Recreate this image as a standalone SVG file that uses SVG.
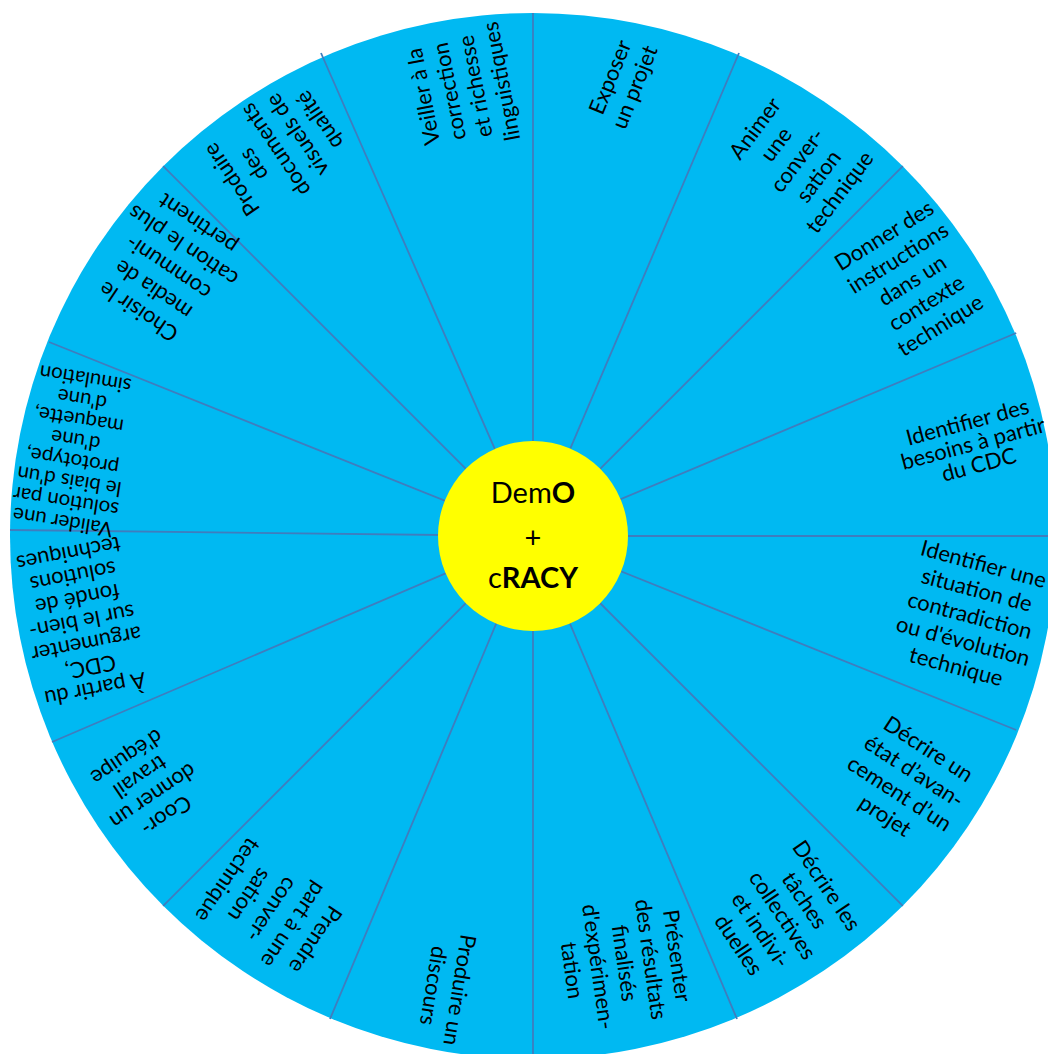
<svg xmlns="http://www.w3.org/2000/svg" width="1048" height="1054" viewBox="0 0 1048 1054">
<defs>
<style>
.wedge{fill:#00B9F2;stroke:none}
.div{stroke:#3F7DBE;stroke-width:1.8;fill:none}
.lbl{font-family:Lato,"Open Sans","DejaVu Sans",sans-serif;font-size:22px;fill:#000;text-anchor:middle}
.sm{font-size:20.5px}
.ctr{font-family:Lato,"Open Sans","DejaVu Sans",sans-serif;font-size:29px;fill:#000;text-anchor:middle}
</style>
</defs>
<rect width="1048" height="1054" fill="#fff"/>
<g id="wheel">
<circle cx="533" cy="536" r="523" class="wedge"/>
</g>
<g id="connectors">
<line class="div" x1="533" y1="536" x2="533" y2="13"/>
<line class="div" x1="533" y1="536" x2="739" y2="53"/>
<line class="div" x1="533" y1="536" x2="902.8" y2="166.2"/>
<line class="div" x1="533" y1="536" x2="1016.2" y2="333"/>
<line class="div" x1="533" y1="536" x2="1056" y2="536"/>
<line class="div" x1="533" y1="536" x2="1016.2" y2="730"/>
<line class="div" x1="533" y1="536" x2="902.8" y2="905.8"/>
<line class="div" x1="533" y1="536" x2="737" y2="1019"/>
<line class="div" x1="533" y1="536" x2="533" y2="1059"/>
<line class="div" x1="533" y1="536" x2="330" y2="1019"/>
<line class="div" x1="533" y1="536" x2="163.2" y2="905.8"/>
<line class="div" x1="533" y1="536" x2="52" y2="742"/>
<line class="div" x1="533" y1="536" x2="10" y2="530"/>
<line class="div" x1="533" y1="536" x2="49" y2="342"/>
<line class="div" x1="533" y1="536" x2="163.2" y2="166.2"/>
<line class="div" x1="533" y1="536" x2="321" y2="53"/>
</g>
<g id="seg0"><text class="lbl" transform="translate(622,82) rotate(-68)"><tspan x="0" y="-5.25">Exposer</tspan><tspan x="0" dy="26.5">un projet</tspan></text></g>
<g id="seg1"><text class="lbl" transform="translate(797,160) rotate(-53)"><tspan x="0" y="-45">Animer</tspan><tspan x="0" dy="26.5">une</tspan><tspan x="0" dy="26.5">conver-</tspan><tspan x="0" dy="26.5">sation</tspan><tspan x="0" dy="26.5">technique</tspan></text></g>
<g id="seg2"><text class="lbl" transform="translate(912,280) rotate(-32)"><tspan x="0" y="-45">Donner des</tspan><tspan x="0" dy="26.5">instructions</tspan><tspan x="0" dy="26.5">dans un</tspan><tspan x="0" dy="26.5">contexte</tspan><tspan x="0" dy="26.5">technique</tspan></text></g>
<g id="seg3"><text class="lbl" transform="translate(973,443) rotate(-15)"><tspan x="0" y="-14">Identifier des</tspan><tspan x="0" dy="22">besoins à partir</tspan><tspan x="0" dy="22">du CDC</tspan></text></g>
<g id="seg4"><text class="lbl" transform="translate(970,615) rotate(15)"><tspan x="0" y="-45">Identifier une</tspan><tspan x="0" dy="26.5">situation de</tspan><tspan x="0" dy="26.5">contradiction</tspan><tspan x="0" dy="26.5">ou d'évolution</tspan><tspan x="0" dy="26.5">technique</tspan></text></g>
<g id="seg5"><text class="lbl" transform="translate(907,782) rotate(33)"><tspan x="0" y="-31.75">Décrire un</tspan><tspan x="0" dy="26.5">état d’avan-</tspan><tspan x="0" dy="26.5">cement d’un</tspan><tspan x="0" dy="26.5">projet</tspan></text></g>
<g id="seg6"><text class="lbl" transform="translate(783,915) rotate(56)"><tspan x="0" y="-45">Décrire les</tspan><tspan x="0" dy="26.5">tâches</tspan><tspan x="0" dy="26.5">collectives</tspan><tspan x="0" dy="26.5">et indivi-</tspan><tspan x="0" dy="26.5">duelles</tspan></text></g>
<g id="seg7"><text class="lbl" transform="translate(625,963) rotate(82)"><tspan x="0" y="-45">Présenter</tspan><tspan x="0" dy="26.5">des résultats</tspan><tspan x="0" dy="26.5">finalisés</tspan><tspan x="0" dy="26.5">d'expérimen-</tspan><tspan x="0" dy="26.5">tation</tspan></text></g>
<g id="seg8"><text class="lbl" transform="translate(447,988) rotate(99)"><tspan x="0" y="-5.25">Produire un</tspan><tspan x="0" dy="26.5">discours</tspan></text></g>
<g id="seg9"><text class="lbl" transform="translate(272,910) rotate(124)"><tspan x="0" y="-45">Prendre</tspan><tspan x="0" dy="26.5">part à une</tspan><tspan x="0" dy="26.5">conver-</tspan><tspan x="0" dy="26.5">sation</tspan><tspan x="0" dy="26.5">technique</tspan></text></g>
<g id="seg10"><text class="lbl" transform="translate(147,787) rotate(146)"><tspan x="0" y="-27">Coor-</tspan><tspan x="0" dy="23.5">donner un</tspan><tspan x="0" dy="23.5">travail</tspan><tspan x="0" dy="23.5">d'équipe</tspan></text></g>
<g id="seg11"><text class="lbl" transform="translate(82,622) rotate(169)"><tspan x="0" y="-61">À partir du</tspan><tspan x="0" dy="23">CDC,</tspan><tspan x="0" dy="23">argumenter</tspan><tspan x="0" dy="23">sur le bien-</tspan><tspan x="0" dy="23">fondé de</tspan><tspan x="0" dy="23">solutions</tspan><tspan x="0" dy="23">techniques</tspan></text></g>
<g id="seg12"><text class="lbl sm" transform="translate(74,451) rotate(189)"><tspan x="0" y="-65">Valider une</tspan><tspan x="0" dy="20.7">solution par</tspan><tspan x="0" dy="20.7">le biais d'un</tspan><tspan x="0" dy="20.7">prototype,</tspan><tspan x="0" dy="20.7">d'une</tspan><tspan x="0" dy="20.7">maquette,</tspan><tspan x="0" dy="20.7">d'une</tspan><tspan x="0" dy="20.7">simulation</tspan></text></g>
<g id="seg13"><text class="lbl" transform="translate(168,268) rotate(-146)"><tspan x="0" y="-45">Choisir le</tspan><tspan x="0" dy="26.5">media de</tspan><tspan x="0" dy="26.5">communi-</tspan><tspan x="0" dy="26.5">cation le plus</tspan><tspan x="0" dy="26.5">pertinent</tspan></text></g>
<g id="seg14"><text class="lbl" transform="translate(275,150) rotate(-124)"><tspan x="0" y="-45">Produire</tspan><tspan x="0" dy="26.5">des</tspan><tspan x="0" dy="26.5">documents</tspan><tspan x="0" dy="26.5">visuels de</tspan><tspan x="0" dy="26.5">qualité</tspan></text></g>
<g id="seg15"><text class="lbl" transform="translate(462,89) rotate(-101)"><tspan x="0" y="-31.75">Veiller à la</tspan><tspan x="0" dy="26.5">correction</tspan><tspan x="0" dy="26.5">et richesse</tspan><tspan x="0" dy="26.5">linguistiques</tspan></text></g>
<g id="center">
<circle cx="533" cy="536" r="95" fill="#FFFF00"/>
<text class="ctr" x="533" y="503">Dem<tspan font-weight="bold">O</tspan></text>
<text class="ctr" x="533" y="548">+</text>
<text class="ctr" x="533" y="588">c<tspan font-weight="bold">RACY</tspan></text>
</g>
</svg>
